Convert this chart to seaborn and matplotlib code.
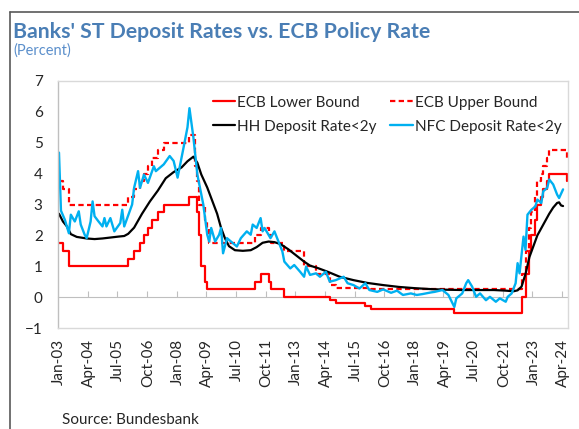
import numpy as np
import pandas as pd
import seaborn as sns
import matplotlib.pyplot as plt
from matplotlib.lines import Line2D

# ECB corridor: month-end value at each change
lower_dates = ['2003-01', '2003-03', '2003-06', '2005-12', '2006-03', '2006-06', '2006-08', '2006-10',
               '2006-12', '2007-03', '2007-06', '2008-07', '2008-11', '2008-12', '2009-01', '2009-03',
               '2009-04', '2011-04', '2011-07', '2011-11', '2011-12', '2012-07', '2014-06', '2014-09',
               '2015-12', '2016-03', '2019-09', '2022-07', '2022-09', '2022-11', '2022-12', '2023-02',
               '2023-03', '2023-05', '2023-06', '2023-08', '2023-09', '2024-06']
lower_vals = [1.75, 1.5, 1.0, 1.25, 1.5, 1.75, 2.0, 2.25,
              2.5, 2.75, 3.0, 3.25, 2.75, 2.0, 1.0, 0.5,
              0.25, 0.5, 0.75, 0.5, 0.25, 0.0, -0.1, -0.2,
              -0.3, -0.4, -0.5, 0.0, 0.75, 1.5, 2.0, 2.5,
              3.0, 3.25, 3.5, 3.75, 4.0, 3.75]

upper_dates = ['2003-01', '2003-03', '2003-06', '2005-12', '2006-03', '2006-06', '2006-08', '2006-10',
               '2006-12', '2007-03', '2007-06', '2008-07', '2008-10', '2008-11', '2008-12', '2009-03',
               '2009-04', '2009-05', '2011-04', '2011-07', '2011-11', '2011-12', '2012-07', '2013-05',
               '2013-11', '2014-06', '2014-09', '2016-03', '2022-07', '2022-09', '2022-11', '2022-12',
               '2023-02', '2023-03', '2023-05', '2023-06', '2023-08', '2023-09', '2024-06']
upper_vals = [3.75, 3.5, 3.0, 3.25, 3.5, 3.75, 4.0, 4.25,
              4.5, 4.75, 5.0, 5.25, 4.25, 3.75, 3.0, 2.5,
              2.25, 1.75, 2.0, 2.25, 2.0, 1.75, 1.5, 1.0,
              0.75, 0.4, 0.3, 0.25, 0.75, 1.5, 2.25, 2.75,
              3.25, 3.75, 4.0, 4.25, 4.5, 4.75, 4.5]

# households, deposits with agreed maturity < 2y
hh_dates = ['2003-01', '2003-03', '2003-05', '2003-07', '2003-10', '2004-03', '2004-07', '2004-11',
            '2005-03', '2005-07', '2005-10', '2005-12', '2006-03', '2006-07', '2006-11', '2007-03',
            '2007-07', '2007-11', '2008-03', '2008-06', '2008-09', '2008-11', '2009-01', '2009-04',
            '2009-06', '2009-09', '2009-11', '2010-01', '2010-03', '2010-06', '2010-10', '2011-02',
            '2011-05', '2011-08', '2011-11', '2012-02', '2012-05', '2012-09', '2013-01', '2013-05',
            '2013-08', '2013-12', '2014-05', '2014-11', '2015-06', '2016-01', '2016-09', '2017-05',
            '2018-01', '2018-09', '2019-05', '2020-01', '2020-09', '2021-05', '2021-11', '2022-03',
            '2022-05', '2022-07', '2022-09', '2022-11', '2023-01', '2023-03', '2023-06', '2023-09',
            '2023-11', '2024-01', '2024-02', '2024-03', '2024-04']
hh_vals = [2.70, 2.45, 2.29, 2.04, 1.95, 1.90, 1.88, 1.90,
           1.93, 1.96, 1.98, 2.05, 2.25, 2.70, 3.10, 3.45,
           3.85, 4.05, 4.20, 4.40, 4.55, 4.35, 3.97, 3.55,
           3.21, 2.70, 2.24, 1.90, 1.65, 1.52, 1.50, 1.52,
           1.62, 1.76, 1.80, 1.78, 1.72, 1.55, 1.35, 1.15,
           1.02, 0.94, 0.82, 0.66, 0.55, 0.46, 0.39, 0.33,
           0.29, 0.26, 0.24, 0.23, 0.23, 0.23, 0.21, 0.19,
           0.22, 0.34, 0.75, 1.30, 1.65, 2.00, 2.35, 2.70,
           2.90, 3.05, 3.07, 2.97, 2.95]

# non-financial corporations, deposits with agreed maturity < 2y
nfc_dates = ['2003-01', '2003-02', '2003-04', '2003-06', '2003-07', '2003-09', '2003-11', '2003-12',
             '2004-02', '2004-03', '2004-05', '2004-06', '2004-07', '2004-09', '2004-11', '2004-12',
             '2005-01', '2005-03', '2005-05', '2005-08', '2005-09', '2005-10', '2006-02', '2006-03',
             '2006-05', '2006-06', '2006-08', '2006-10', '2007-01', '2007-02', '2007-06', '2007-09',
             '2007-11', '2008-01', '2008-04', '2008-06', '2008-07', '2008-09', '2008-11', '2009-02',
             '2009-04', '2009-05', '2009-06', '2009-08', '2009-10', '2009-11', '2009-12', '2010-02',
             '2010-04', '2010-07', '2010-09', '2010-12', '2011-02', '2011-03', '2011-05', '2011-07',
             '2011-08', '2011-09', '2011-12', '2012-02', '2012-06', '2012-07', '2012-10', '2012-12',
             '2013-03', '2013-05', '2013-06', '2013-08', '2013-11', '2014-01', '2014-04', '2014-06',
             '2014-09', '2015-01', '2015-03', '2015-06', '2015-09', '2015-12', '2016-02', '2016-06',
             '2016-09', '2017-01', '2017-04', '2017-07', '2017-11', '2018-02', '2018-05', '2018-09',
             '2018-11', '2019-03', '2019-06', '2019-09', '2019-10', '2020-01', '2020-03', '2020-04',
             '2020-06', '2020-08', '2020-10', '2021-01', '2021-03', '2021-06', '2021-08', '2021-11',
             '2021-12', '2022-02', '2022-04', '2022-05', '2022-06', '2022-08', '2022-09', '2022-10',
             '2022-12', '2023-02', '2023-03', '2023-05', '2023-06', '2023-08', '2023-09', '2023-11',
             '2024-01', '2024-02', '2024-04']
nfc_vals = [4.68, 2.80, 2.50, 2.07, 2.67, 2.45, 2.78, 2.35,
            2.02, 1.91, 2.45, 3.10, 2.62, 2.45, 2.29, 2.56,
            2.29, 2.56, 2.13, 2.40, 2.83, 2.29, 3.00, 3.54,
            4.08, 3.54, 3.97, 3.70, 4.24, 4.08, 4.30, 4.57,
            4.41, 3.87, 4.84, 5.50, 6.12, 5.17, 3.97, 3.00,
            2.02, 1.80, 2.24, 1.80, 2.02, 2.24, 1.42, 1.91,
            1.80, 1.64, 1.91, 2.13, 2.02, 2.35, 2.24, 2.56,
            2.13, 2.24, 1.91, 2.13, 1.48, 1.15, 0.93, 1.04,
            0.82, 0.66, 0.99, 0.72, 0.77, 0.66, 0.82, 0.50,
            0.55, 0.66, 0.45, 0.39, 0.28, 0.45, 0.23, 0.17,
            0.25, 0.14, 0.21, 0.07, 0.12, 0.07, 0.10, 0.15,
            0.17, 0.23, 0.07, -0.32, -0.04, 0.12, 0.45, 0.55,
            0.34, 0.01, 0.12, -0.10, 0.01, -0.15, -0.04, -0.15,
            0.01, 0.12, 0.45, 1.10, 0.77, 1.96, 1.53, 2.67,
            2.83, 2.94, 3.16, 3.05, 3.43, 3.54, 3.81, 3.65,
            3.32, 3.21, 3.49]

tick_labels = ['Jan-03', 'Apr-04', 'Jul-05', 'Oct-06', 'Jan-08', 'Apr-09', 'Jul-10', 'Oct-11', 'Jan-13',
               'Apr-14', 'Jul-15', 'Oct-16', 'Jan-18', 'Apr-19', 'Jul-20', 'Oct-21', 'Jan-23', 'Apr-24']


def month_idx(dates, fmt='%Y-%m'):
    d = pd.to_datetime(pd.Series(dates), format=fmt)
    return ((d.dt.year - 2003) * 12 + d.dt.month - 1).to_numpy()


sns.set_style('white')
plt.rcParams['font.family'] = ['Lato', 'DejaVu Sans']

W, H = 579, 429
fig = plt.figure(figsize=(W / 100, H / 100), dpi=100)
ax = fig.add_axes([58 / W, 1 - 328 / H, (568 - 58) / W, (328 - 81) / H])

red, blue = '#ff0000', '#00b0f0'
lw = 1.6

sns.lineplot(x=month_idx(lower_dates), y=lower_vals, ax=ax, color=red, lw=lw,
             drawstyle='steps-post', label='ECB Lower Bound')
sns.lineplot(x=month_idx(upper_dates), y=upper_vals, ax=ax, color=red, lw=lw,
             drawstyle='steps-post', linestyle=(0, (2.4, 1.5)), label='ECB Upper Bound')
sns.lineplot(x=month_idx(hh_dates), y=hh_vals, ax=ax, color='black', lw=lw,
             label='HH Deposit Rate<2y')
sns.lineplot(x=month_idx(nfc_dates), y=nfc_vals, ax=ax, color=blue, lw=1.7,
             label='NFC Deposit Rate<2y')

ax.set_xlim(-0.5, 257.5)
ax.set_ylim(-1, 7)
ax.set_yticks(range(-1, 8))

tick_pos = month_idx(tick_labels, fmt='%b-%y')
ax.set_xticks(tick_pos)
ax.set_xticklabels(tick_labels, rotation=90)
ax.tick_params(axis='x', length=0, pad=8, labelsize=11, labelcolor='#262626')
ax.tick_params(axis='y', direction='in', length=4, color='#bfbfbf', pad=11,
               labelsize=11, labelcolor='#262626')
for s in ax.spines.values():
    s.set_color('#d9d9d9')
    s.set_linewidth(1)
ax.spines['left'].set_color('#bfbfbf')

# category axis crossing at zero, ticks between categories
zero_axis = ax.secondary_xaxis(1 / 8)
zero_axis.set_xticks(tick_pos[1:] - 0.5)
zero_axis.tick_params(direction='in', length=4, color='#bfbfbf', labelbottom=False)
zero_axis.spines['bottom'].set_color('#bfbfbf')

handles, labels = ax.get_legend_handles_labels()
order = [0, 2, 1, 3]
ax.legend([handles[i] for i in order], [labels[i] for i in order], ncol=2, frameon=False,
          loc='upper left', bbox_to_anchor=(0.303, 0.94), borderaxespad=0, borderpad=0,
          fontsize=11, handlelength=1.5, handletextpad=0.1, columnspacing=0.9,
          labelspacing=0.65)

fig.text(13 / W, 1 - 32 / H, "Banks' ST Deposit Rates vs. ECB Policy Rate", fontsize=15.3,
         fontweight='bold', color='#4a7eb5', va='center', ha='left')
fig.text(13 / W, 1 - 51 / H, '(Percent)', fontsize=10.5, color='#5b8fcb', va='center', ha='left')
fig.text(62 / W, 1 - 420 / H, 'Source: Bundesbank', fontsize=11, color='#262626',
         va='center', ha='left')

# outer frame (left and top edges only show)
fig.add_artist(Line2D([10 / W, 10 / W], [0, 1 - 12 / H], transform=fig.transFigure,
                      color='#595959', lw=1.2))
fig.add_artist(Line2D([10 / W, 1], [1 - 12 / H, 1 - 12 / H], transform=fig.transFigure,
                      color='#595959', lw=1.2))

fig.savefig('out.png', dpi=100)
